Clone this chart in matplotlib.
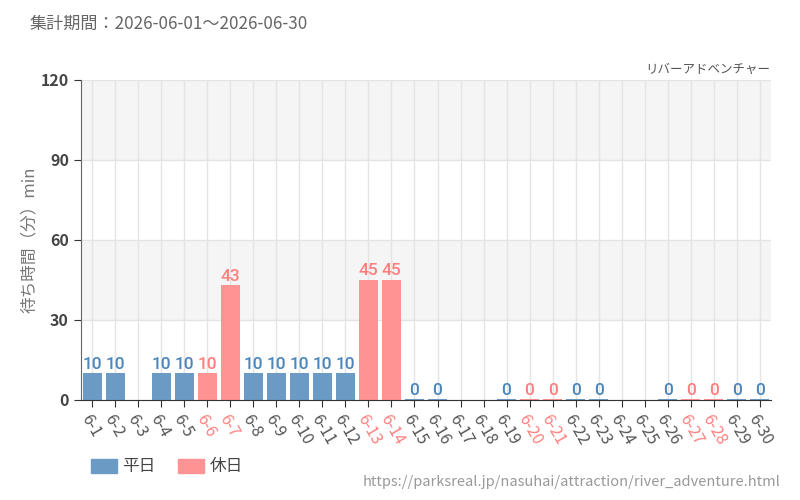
import matplotlib
matplotlib.use("Agg")
import matplotlib.pyplot as plt
from matplotlib.patches import Patch
import numpy as np

plt.rcParams['font.family'] = ['Noto Sans CJK JP', 'DejaVu Sans']

days = [f"6-{d}" for d in range(1, 31)]
waits = [10, 10, None, 10, 10, 10, 43, 10, 10, 10, 10, 10, 45, 45, 0,
         0, None, None, 0, 0, 0, 0, 0, None, None, 0, 0, 0, 0, 0]
holiday = [False, False, False, False, False, True, True, False, False, False,
           False, False, True, True, False, False, False, False, False, True,
           True, False, False, False, False, False, True, True, False, False]

blue_bar = "#6b9bc4"
blue_txt = "#4a86bb"
red_bar = "#ff9393"
red_txt = "#ff7f7f"
grey_txt = "#555555"

fig = plt.figure(figsize=(8, 5), dpi=100)
ax = fig.add_axes([0.101, 0.2, 0.863, 0.64])

x = np.arange(len(days))
ax.set_xlim(-0.5, len(days) - 0.5)
ax.set_ylim(0, 120)

# alternating bands
for lo, hi in [(30, 60), (90, 120)]:
    ax.axhspan(lo, hi, color="#f5f5f5", zorder=0, lw=0)
ax.grid(True, color="#e4e4e4", lw=1, zorder=0.5)
ax.set_axisbelow(True)

for i, v in enumerate(waits):
    if v is None:
        continue
    bc = red_bar if holiday[i] else blue_bar
    tc = red_txt if holiday[i] else blue_txt
    ax.bar(x[i], max(v, 0.5), width=0.8, color=bc, zorder=2)
    ax.text(x[i], v + 0.6, str(v), ha="center", va="bottom", color=tc,
            fontsize=12.5, family="Roboto", fontweight="medium", zorder=3)

ax.set_yticks([0, 30, 60, 90, 120])
ax.set_yticklabels(["0", "30", "60", "90", "120"], fontsize=11.5,
                   fontweight="bold", color="#444444")
ax.set_xticks(x)
ax.set_xticklabels(days, rotation=-60, ha="left", va="top",
                   rotation_mode="anchor", fontsize=11.5)
for lbl, h in zip(ax.get_xticklabels(), holiday):
    lbl.set_color(red_txt if h else grey_txt)
ax.tick_params(axis="x", length=5, color="#333333", pad=3)
ax.tick_params(axis="y", length=5, color="#333333")

for s in ["top", "right"]:
    ax.spines[s].set_visible(False)
ax.spines["left"].set_color("#666666")
ax.spines["bottom"].set_color("#333333")

ax.set_ylabel("待ち時間（分）min", fontsize=12, color="#777777", labelpad=2)

fig.text(30 / 800, 1 - 24 / 500, "集計期間：2026-06-01～2026-06-30",
         fontsize=12.3, color="#666666", va="center", ha="left")
fig.text(770 / 800, 1 - 69 / 500, "リバーアドベンチャー",
         fontsize=9, color="#555555", va="center", ha="right")
fig.text(780 / 800, 1 - 482 / 500,
         "https://parksreal.jp/nasuhai/attraction/river_adventure.html",
         fontsize=10.5, color="#999999", va="center", ha="right")

handles = [Patch(color=blue_bar, label="平日"), Patch(color=red_bar, label="休日")]
fig.legend(handles=handles, loc="center left", bbox_to_anchor=(76 / 800, 1 - 467 / 500),
           ncol=2, frameon=False, fontsize=12, handlelength=1.55, handleheight=0.9,
           columnspacing=1.4, handletextpad=0.3, labelcolor="#444444")

fig.savefig("out.png", dpi=100)
